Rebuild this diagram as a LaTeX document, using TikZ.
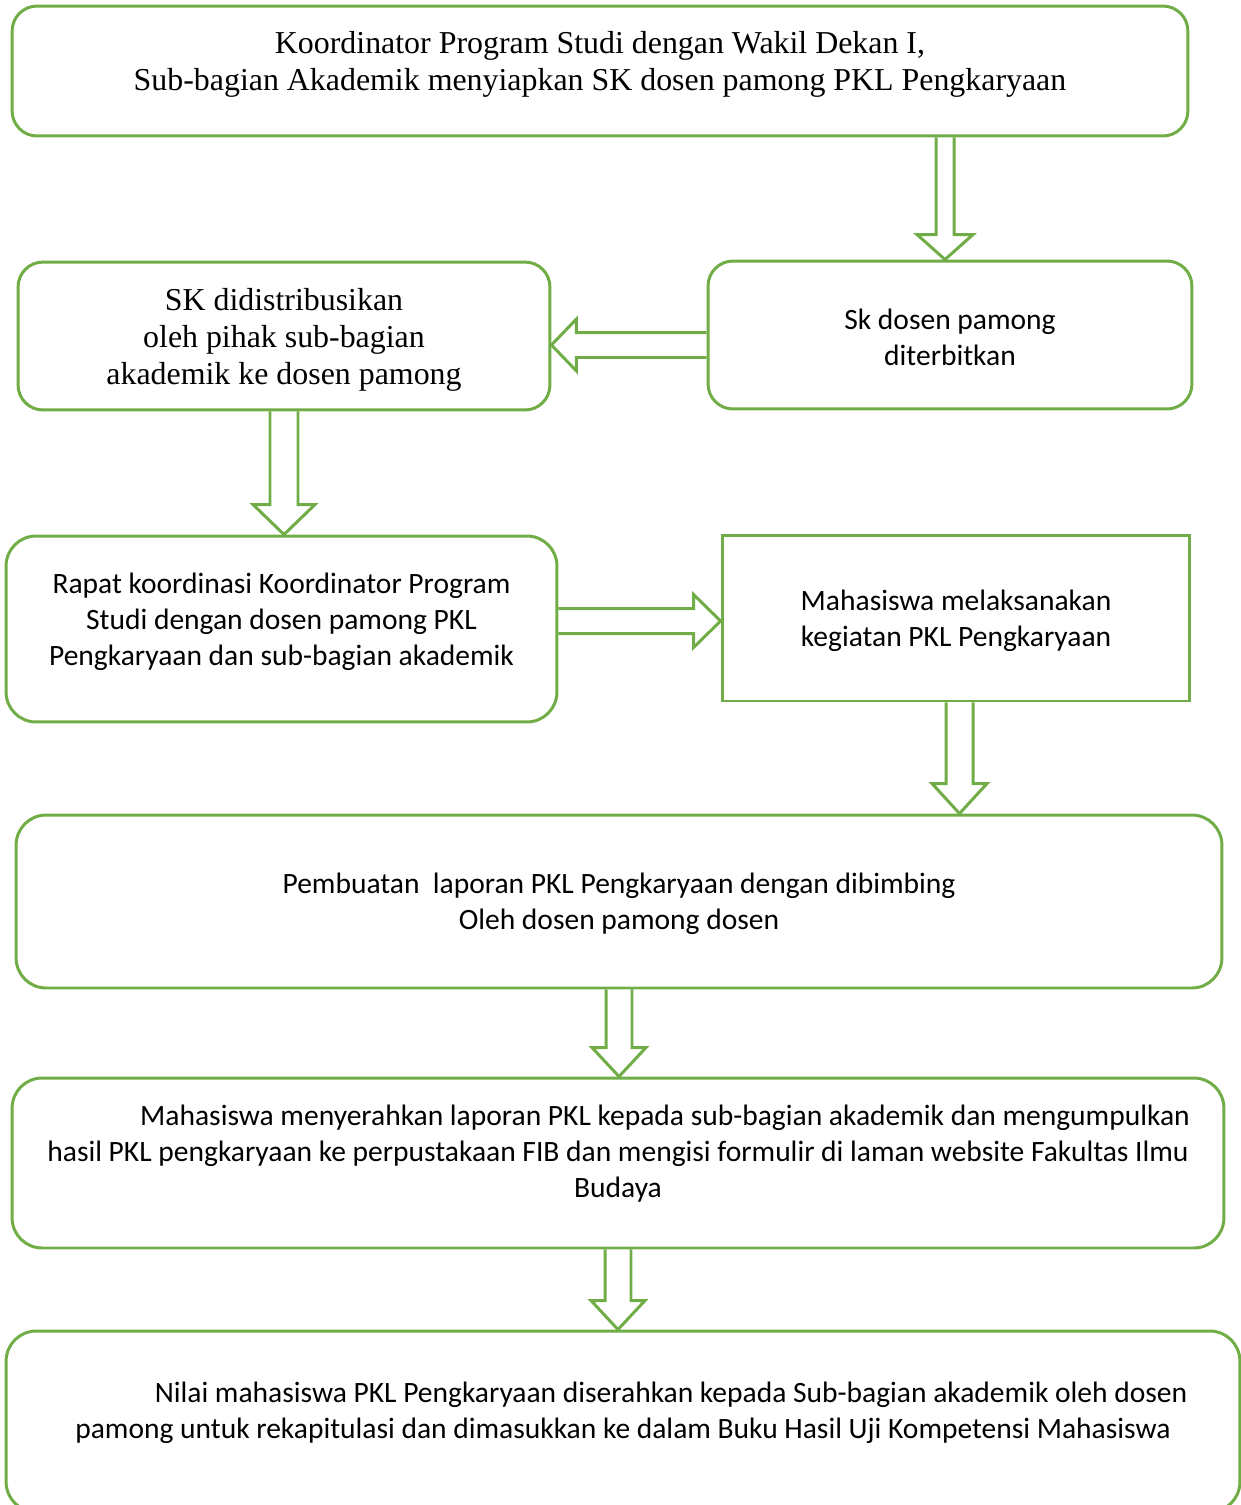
\documentclass[tikz,border=0pt]{standalone}
\usepackage{fontspec}
\setmainfont{Carlito}
\newfontfamily\timesfont{Liberation Serif}
\usetikzlibrary{calc}
\definecolor{flowgreen}{HTML}{70AD47}

% hollow block arrows: from, to, half shaft, half head, head length
\newcommand{\downblock}[5]{%
  \draw[flowline] let \p1=(#1), \p2=(#2) in
    (\x1-#3,\y1) -- (\x1-#3,\y2+#5) -- (\x1-#4,\y2+#5) -- (\x1,\y2)
    -- (\x1+#4,\y2+#5) -- (\x1+#3,\y2+#5) -- (\x1+#3,\y1);}
\newcommand{\leftblock}[5]{%
  \draw[flowline] let \p1=(#1), \p2=(#2) in
    (\x1,\y1-#3) -- (\x2+#5,\y1-#3) -- (\x2+#5,\y1-#4) -- (\x2,\y1)
    -- (\x2+#5,\y1+#4) -- (\x2+#5,\y1+#3) -- (\x1,\y1+#3);}
\newcommand{\rightblock}[5]{%
  \draw[flowline] let \p1=(#1), \p2=(#2) in
    (\x1,\y1-#3) -- (\x2-#5,\y1-#3) -- (\x2-#5,\y1-#4) -- (\x2,\y1)
    -- (\x2-#5,\y1+#4) -- (\x2-#5,\y1+#3) -- (\x1,\y1+#3);}

\begin{document}
\begin{tikzpicture}[%
    x=0.02cm, y=-0.02cm,
    flowbox/.style={draw=flowgreen, line width=1.7pt, rounded corners=0.5cm, inner sep=0pt},
    flowrect/.style={draw=flowgreen, line width=1.7pt, inner sep=0pt},
    flowline/.style={draw=flowgreen, line width=1.7pt, line join=miter},
    serifline/.style={align=center, inner sep=0pt, font=\timesfont\fontsize{18.15}{21}\selectfont},
    sansline/.style={align=center, inner sep=0pt, font=\fontsize{16.8}{20.5}\selectfont},
    ]
    \useasboundingbox (0,0) rectangle (1241,1505);
    \clip (0,0) rectangle (1241,1505);
    % boxes
    \node[flowbox, minimum width=23.52cm, minimum height=2.6cm] (top) at (600,71) {};
    \node[flowbox, minimum width=10.64cm, minimum height=2.96cm] (sk) at (284,336) {};
    \node[flowbox, minimum width=9.68cm, minimum height=2.96cm] (skd) at (950,335) {};
    \node[flowbox, rounded corners=0.6cm, minimum width=11.02cm, minimum height=3.72cm] (rapat) at (281.5,629) {};
    \node[flowrect, minimum width=9.36cm, minimum height=3.32cm] (mhs) at (956,618) {};
    \node[flowbox, rounded corners=0.6cm, minimum width=24.12cm, minimum height=3.46cm] (pemb) at (619,901.5) {};
    \node[flowbox, rounded corners=0.6cm, minimum width=24.24cm, minimum height=3.4cm] (srh) at (618,1163) {};
    \node[flowbox, rounded corners=0.6cm, minimum width=24.68cm, minimum height=3.62cm] (nilai) at (623,1421.5) {};
    % texts
    \node[serifline] (top-t) at (600,64) {Koordinator Program Studi dengan Wakil Dekan I,\\Sub-bagian Akademik menyiapkan SK dosen pamong PKL Pengkaryaan};
    \node[serifline] (sk-t) at (284,340) {SK didistribusikan\\oleh pihak sub-bagian\\akademik ke dosen pamong};
    \node[sansline] (skd-t) at (950,337) {Sk dosen pamong\\diterbitkan};
    \node[sansline] (rapat-t) at (281.5,622) {Rapat koordinasi Koordinator Program\\Studi dengan dosen pamong PKL\\Pengkaryaan dan sub-bagian akademik};
    \node[sansline] (mhs-t) at (956,621) {Mahasiswa melaksanakan\\kegiatan PKL Pengkaryaan};
    \node[sansline] (pemb-t) at (619,904) {Pembuatan~ laporan PKL Pengkaryaan dengan dibimbing\\Oleh dosen pamong dosen};
    \node[sansline] (srh-t) at (618,1154) {\hspace*{1.88cm}Mahasiswa menyerahkan laporan PKL kepada sub-bagian akademik dan mengumpulkan\\hasil PKL pengkaryaan ke perpustakaan FIB dan mengisi formulir di laman website Fakultas Ilmu\\Budaya};
    \node[sansline] (nilai-t) at (623,1413) {\hspace*{1.92cm}Nilai mahasiswa PKL Pengkaryaan diserahkan kepada Sub-bagian akademik oleh dosen\\pamong untuk rekapitulasi dan dimasukkan ke dalam Buku Hasil Uji Kompetensi Mahasiswa};
    % arrows
    \downblock{[xshift=-0.1cm]top.south -| skd.north}{skd.north}{0.18cm}{0.56cm}{0.5cm}
    \leftblock{[yshift=-0.2cm]skd.west}{sk.east}{0.25cm}{0.52cm}{0.5cm}
    \downblock{sk.south}{rapat.north}{0.28cm}{0.62cm}{0.6cm}
    \rightblock{[yshift=0.16cm]rapat.east}{mhs.west}{0.25cm}{0.53cm}{0.54cm}
    \downblock{[xshift=0.07cm]mhs.south}{pemb.north}{0.27cm}{0.55cm}{0.6cm}
    \downblock{pemb.south}{srh.north}{0.26cm}{0.54cm}{0.58cm}
    \downblock{srh.south}{nilai.north}{0.26cm}{0.54cm}{0.58cm}
\end{tikzpicture}
\end{document}
